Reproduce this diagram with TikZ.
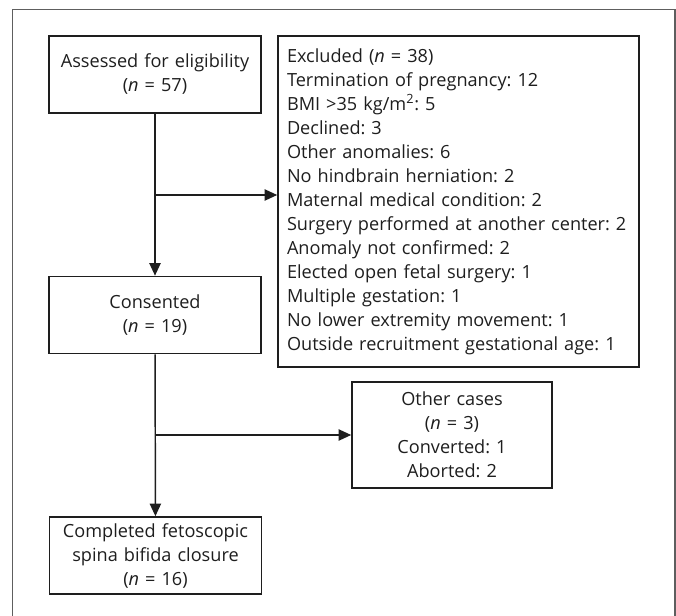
\documentclass[tikz,border=0pt]{standalone}
\usepackage{fontspec}
\setmainfont{Open Sans}
\usepackage{xcolor}
\usetikzlibrary{positioning, arrows.meta}
\definecolor{framegray}{HTML}{5E5E5E}
\definecolor{inkgray}{HTML}{1E1E1E}
\frenchspacing

\begin{document}
\begin{tikzpicture}[x=0.75pt, y=-0.75pt,
    flowbox/.style={draw=inkgray, line width=1.2pt, align=center,
      inner xsep=3pt, inner ysep=0pt, text width=153pt, minimum height=57.75pt,
      font=\fontsize{13.6}{18}\selectfont, text=inkgray},
    listbox/.style={flowbox, align=left, inner xsep=6.75pt, text width=257.25pt,
      minimum height=248.25pt},
    sidebox/.style={flowbox, text width=144pt, minimum height=79.5pt},
    flowline/.style={draw=inkgray, line width=1.1pt, -{Triangle[length=9.5pt, width=8.5pt]}}]
    \useasboundingbox (0,0) rectangle (676,616);
    \clip (0,0) rectangle (676,616);
    % outer frame, open at the bottom
    \draw[framegray, line width=1.2pt] (12.5,630) -- (12.5,9.5) -- (675,9.5) -- (675,630);

    \node[flowbox] (assess) at (155,74.5) {Assessed for eligibility\\(\textit{n} = 57)};
    \node[flowbox] (consent) at (155,315) {Consented\\(\textit{n} = 19)};
    \node[flowbox] (complete) at (155.5,555.5) {Completed fetoscopic\\spina bifida closure\\(\textit{n} = 16)};
    \node[listbox] (excl) at (458.5,201.5) {%
      Excluded (\textit{n} = 38)\\
      Termination of pregnancy: 12\\
      BMI >35 kg/m\textsuperscript{2}: 5\\
      Declined: 3\\
      Other anomalies: 6\\
      No hindbrain herniation: 2\\
      Maternal medical condition: 2\\
      Surgery performed at another center: 2\\
      Anomaly not confirmed: 2\\
      Elected open fetal surgery: 1\\
      Multiple gestation: 1\\
      No lower extremity movement: 1\\
      Outside recruitment gestational age: 1};
    \node[sidebox] (other) at (452,435) {Other cases\\(\textit{n} = 3)\\Converted: 1\\Aborted: 2};

    \coordinate (split1) at (155,195);
    \draw[flowline] (assess) -- (consent);
    \draw[flowline] (split1) -- (split1 -| excl.west);
    \draw[flowline] (consent) -- (complete);
    \draw[flowline] (consent.south |- other.west) -- (other.west);
  \end{tikzpicture}
\end{document}
